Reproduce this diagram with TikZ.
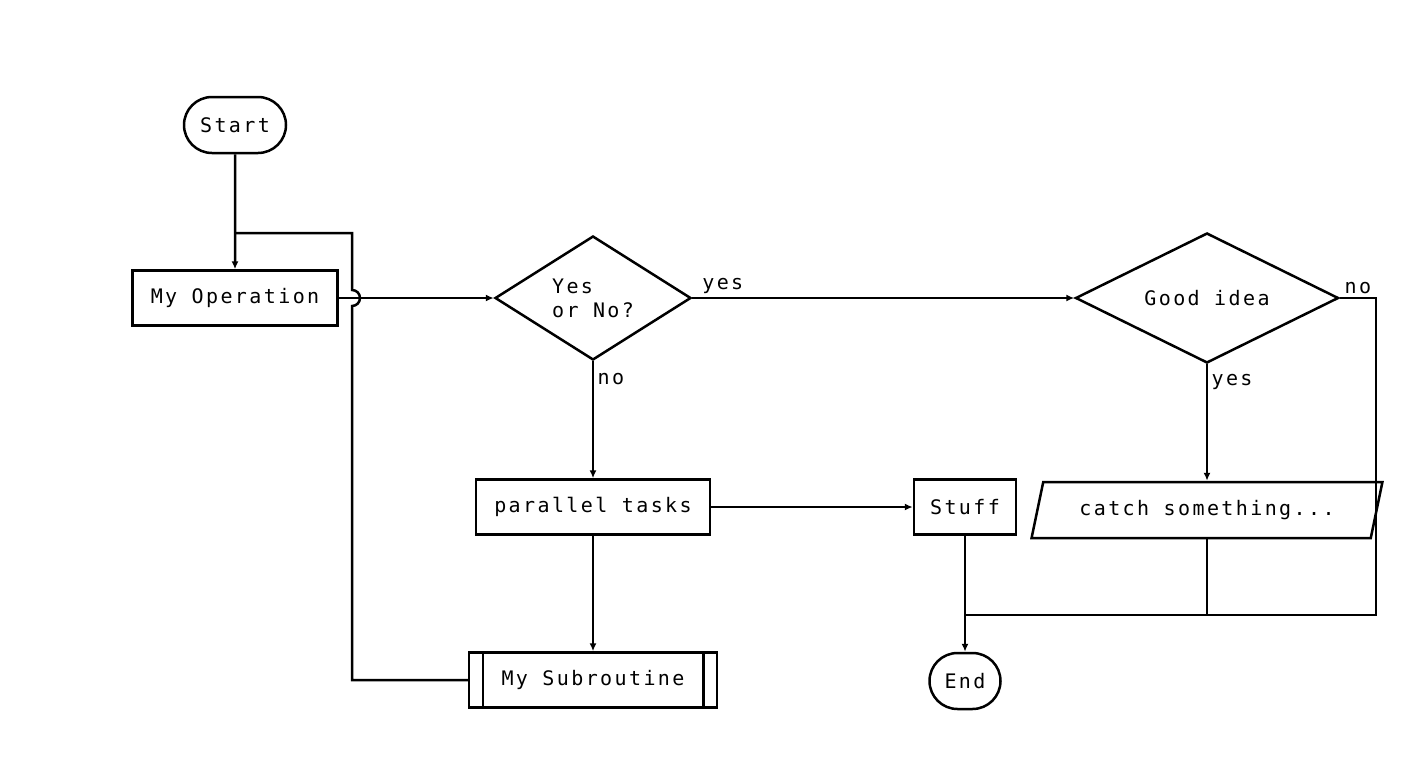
\documentclass[tikz,border=0pt]{standalone}
\usepackage{fontspec}
\setmainfont{DejaVu Sans Mono}[LetterSpace=12]
\usetikzlibrary{shapes.geometric,shapes.misc,arrows.meta}

\tikzset{
  box/.style={draw,line width=2.5pt,minimum height=55pt,inner sep=0pt},
  term/.style={draw,line width=2.5pt,rounded rectangle,minimum height=56pt,inner sep=0pt},
  choice/.style={draw,line width=2.5pt,diamond,aspect=1.6,inner sep=0pt},
  flow/.style={line width=2.5pt},
  arr/.style={flow,-{Latex[length=8pt,width=7pt]}},
  lbl/.style={font=\fontsize{20}{22}\selectfont}
}

\begin{document}
\begin{tikzpicture}[x=1pt,y=-1pt,font=\fontsize{20}{24}\selectfont]
\useasboundingbox (0,0) rectangle (1406,774);

\node[term,minimum width=102pt] (start) at (235,125) {Start};
\node[box,minimum width=205pt] (oper) at (235,298) {My Operation};
\node[choice,minimum width=196pt,minimum height=124pt,align=left] (ask) at (593,298) {Yes\\or No?};
\node[choice,minimum width=263pt,minimum height=130pt] (good) at (1207,298) {Good idea};
\node[box,minimum width=234pt] (par) at (593,507) {parallel tasks};
\node[box,minimum width=102pt] (stuff) at (965,507) {Stuff};
\node[draw,line width=2.5pt,trapezium,trapezium left angle=65,trapezium right angle=115,
      minimum width=352pt,minimum height=56pt,inner sep=0pt,trapezium stretches=true] (catch) at (1207,510) {catch something...};
\node[box,minimum width=248pt] (sub) at (593,680) {My Subroutine};
\draw[line width=2.5pt] ([xshift=15pt]sub.north west) -- ([xshift=15pt]sub.south west)
  ([xshift=-15pt]sub.north east) -- ([xshift=-15pt]sub.south east);
\node[term,minimum width=71pt] (end) at (965,681) {End};

\coordinate (loop) at (352,233);
\coordinate (join) at (965,615);

\draw[arr] (start) -- (oper);
\draw[flow] (sub.west) -| (352,306) arc(-90:90:8pt) -- (loop) -- (loop -| start);
\draw[arr] (oper.east) -- (ask.west);
\draw[arr] (ask.east) -- node[lbl,above,pos=0.08] {yes} (good.west);
\draw[arr] (ask.south) -- node[lbl,right,pos=0.15] {no} (par.north);
\draw[arr] (par) -- (stuff);
\draw[arr] (par) -- (sub);
\draw[arr] (good.south) -- node[lbl,right,pos=0.15] {yes} (catch.north -| good.south);
\draw[flow] (good.east) -- node[lbl,above,pos=0.5] {no} (1376,298) |- (join);
\draw[flow] (catch.south -| good.south) -- (join -| good.south);
\draw[arr] (stuff) -- (end);
\end{tikzpicture}
\end{document}
